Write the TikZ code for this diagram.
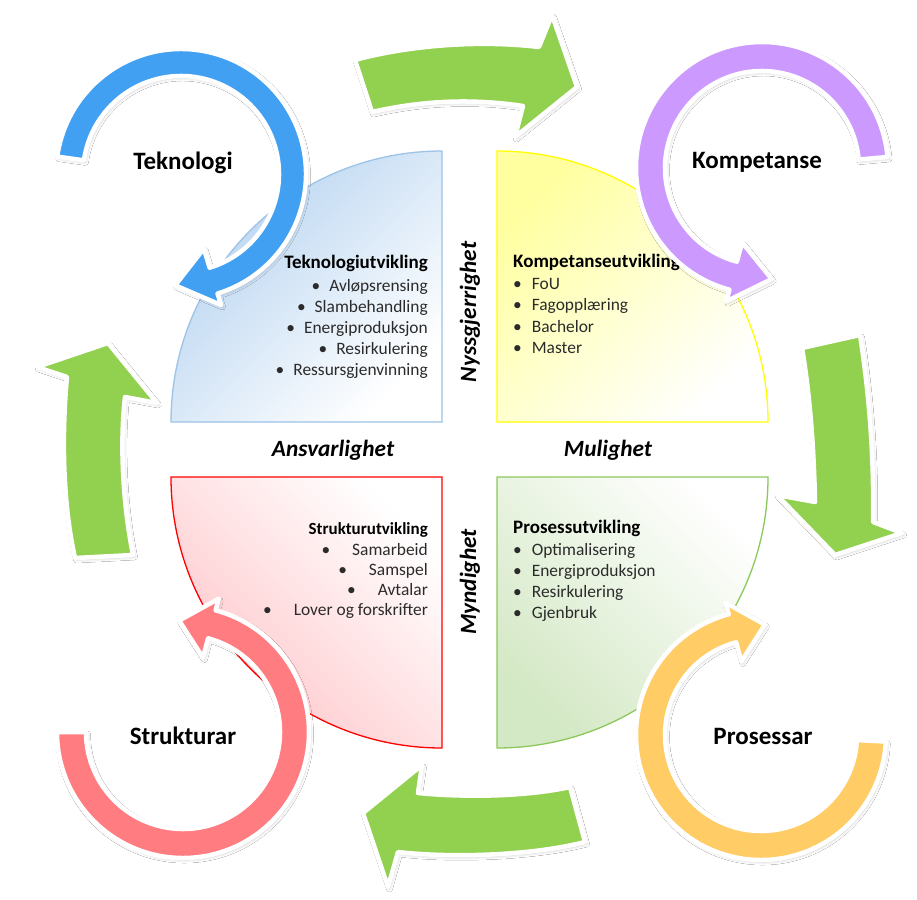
\documentclass[tikz,border=0pt]{standalone}
\usepackage{fontspec}
\setmainfont{Carlito}
\usetikzlibrary{shadows.blur}
\definecolor{arrgreen}{HTML}{92D050}
\definecolor{arrblue}{HTML}{42A0F2}
\definecolor{arrpurple}{HTML}{CC99FF}
\definecolor{arrorange}{HTML}{FFCC66}
\definecolor{arrred}{HTML}{FF7C80}
\definecolor{qblue}{HTML}{B4D2F0}
\definecolor{qblueline}{HTML}{9DC3E6}
\definecolor{qyellow}{HTML}{FFFFA0}
\definecolor{qyellowline}{HTML}{FFFF00}
\definecolor{qred}{HTML}{FFC4C8}
\definecolor{qredline}{HTML}{FF0000}
\definecolor{qgreen}{HTML}{D3E8C4}
\definecolor{qgreenline}{HTML}{8CC85A}
\definecolor{itemtext}{HTML}{2B2B2B}
\tikzset{
  arrowshape/.style={draw=white, line width=4.5pt, line join=round,
    blur shadow={shadow blur steps=6, shadow xshift=1.5pt, shadow yshift=-2pt,
      shadow opacity=20, shadow blur radius=3pt}},
  quad/.style={line width=1.3pt},
  biglabel/.style={font=\fontsize{25}{29}\selectfont\bfseries, text=black, inner sep=0pt},
  sidelabel/.style={font=\fontsize{23.3}{27}\selectfont\bfseries\itshape, text=black, inner sep=0pt},
  head/.style={font=\fontsize{19}{22}\selectfont\bfseries, text=black, inner sep=0pt},
  smallhead/.style={font=\fontsize{17}{20}\selectfont\bfseries, text=black, inner sep=0pt},
  item/.style={font=\fontsize{17.4}{21}\selectfont, text=itemtext, inner sep=0pt},
}
\newcommand\circarr[8]{%
  \path[arrowshape, fill=#8]
    ({#1+#4*cos(#5)},{#2-#4*sin(#5)}) arc[start angle={-(#5)}, end angle={-(#6)}, radius=#4]
    -- ({#1+(#4+12)*cos(#6)},{#2-(#4+12)*sin(#6)})
    -- ({#1+(#3+#4)/2*cos(#7)},{#2-(#3+#4)/2*sin(#7)})
    -- ({#1+(#3-20)*cos(#6)},{#2-(#3-20)*sin(#6)})
    -- ({#1+#3*cos(#6)},{#2-#3*sin(#6)}) arc[start angle={-(#6)}, end angle={-(#5)}, radius=#3]
    -- cycle;}
\begin{document}
\begin{tikzpicture}[x=1pt, y=-1pt]
\useasboundingbox[fill=white] (0,0) rectangle (917,899);

% quadrants
\path[quad, draw=qblueline, top color=qblue, bottom color=white, shading angle=45]
  (442,422) -- (171,422) arc[start angle=-180, end angle=-90, radius=271] -- cycle;
\path[quad, draw=qyellowline, top color=qyellow, bottom color=white, shading angle=45]
  (497,422) -- (497,151) arc[start angle=-90, end angle=0, radius=271] -- cycle;
\path[quad, draw=qredline, top color=white, bottom color=qred, shading angle=-45]
  (171,477) -- (442,477) -- (442,748) arc[start angle=90, end angle=180, radius=271] -- cycle;
\path[quad, draw=qgreenline, top color=white, bottom color=qgreen, shading angle=-45]
  (497,477) -- (768,477) arc[start angle=0, end angle=90, radius=271] -- cycle;

% quadrant texts
\node[head, anchor=base east] (t0) at (428,268) {Teknologiutvikling};
\node[item, anchor=base east] (t1) at (428,291) {\textbullet\hspace{9pt}Avløpsrensing};
\node[item, anchor=base east] (t2) at (428,312) {\textbullet\hspace{9pt}Slambehandling};
\node[item, anchor=base east] (t3) at (428,333) {\textbullet\hspace{9pt}Energiproduksjon};
\node[item, anchor=base east] (t4) at (428,354) {\textbullet\hspace{9pt}Resirkulering};
\node[item, anchor=base east] (t5) at (428,375) {\textbullet\hspace{9pt}Ressursgjenvinning};

\node[head, anchor=base west] (k0) at (513,267) {Kompetanseutvikling};
\node[item, anchor=base west] (k1) at (513,289) {\textbullet\hspace{10pt}FoU};
\node[item, anchor=base west] (k2) at (513,310) {\textbullet\hspace{10pt}Fagopplæring};
\node[item, anchor=base west] (k3) at (513,332) {\textbullet\hspace{10pt}Bachelor};
\node[item, anchor=base west] (k4) at (513,353) {\textbullet\hspace{10pt}Master};

\node[smallhead, anchor=base east] (s0) at (428,534) {Strukturutvikling};
\node[item, anchor=base east] (s1) at (428,555) {\textbullet\hspace{22pt}Samarbeid};
\node[item, anchor=base east] (s2) at (428,575) {\textbullet\hspace{22pt}Samspel};
\node[item, anchor=base east] (s3) at (428,595) {\textbullet\hspace{22pt}Avtalar};
\node[item, anchor=base east] (s4) at (428,615) {\textbullet\hspace{22pt}Lover og forskrifter};

\node[head, anchor=base west] (p0) at (513,533) {Prosessutvikling};
\node[item, anchor=base west] (p1) at (513,555) {\textbullet\hspace{10pt}Optimalisering};
\node[item, anchor=base west] (p2) at (513,576) {\textbullet\hspace{10pt}Energiproduksjon};
\node[item, anchor=base west] (p3) at (513,597) {\textbullet\hspace{10pt}Resirkulering};
\node[item, anchor=base west] (p4) at (513,618) {\textbullet\hspace{10pt}Gjenbruk};

% side labels
\node[sidelabel] (ansv) at (333,450) {Ansvarlighet};
\node[sidelabel] (mul) at (608,450) {Mulighet};
\node[sidelabel, rotate=90] (nys) at (470,312) {Nyssgjerrighet};
\node[sidelabel, rotate=90] (myn) at (470,582) {Myndighet};

% green arrows
\path[arrowshape, fill=arrgreen] (355,60) .. controls (410,45) and (480,40) .. (539,47)
  -- (552,15) -- (577,87) -- (515,137) -- (523,106)
  .. controls (470,98) and (420,101) .. (372,112) -- cycle;
\path[arrowshape, fill=arrgreen] (802,348) -- (860,335)
  .. controls (870,400) and (874,460) .. (873,522)
  -- (902,533) -- (835,555) -- (777,495) -- (815,502)
  .. controls (814,450) and (810,395) .. (802,348) -- cycle;
\path[arrowshape, fill=arrgreen] (570,787) .. controls (530,796) and (470,798) .. (418,793)
  -- (422,765) -- (363,813) -- (388,887) -- (398,852)
  .. controls (450,858) and (530,856) .. (585,842) -- cycle;
\path[arrowshape, fill=arrgreen] (75,558) .. controls (62,500) and (62,430) .. (67,377)
  -- (37,367) -- (108,343) -- (157,403) -- (125,397)
  .. controls (120,440) and (122,500) .. (133,555) -- cycle;

% circular arrows
\circarr{181}{174}{98}{125}{172}{-73}{-93}{arrblue}
\circarr{762}{168}{97}{126}{5}{255}{275}{arrpurple}
\circarr{761}{735}{96}{125}{-3}{-255}{-272}{arrorange}
\circarr{183}{732}{97}{126}{180}{435}{452}{arrred}

% big labels
\node[biglabel, anchor=base] (tek) at (183,169) {Teknologi};
\node[biglabel, anchor=base] (kom) at (757,168) {Kompetanse};
\node[biglabel, anchor=base] (pro) at (763,744) {Prosessar};
\node[biglabel, anchor=base] (str) at (183,744) {Strukturar};
\end{tikzpicture}
\end{document}
